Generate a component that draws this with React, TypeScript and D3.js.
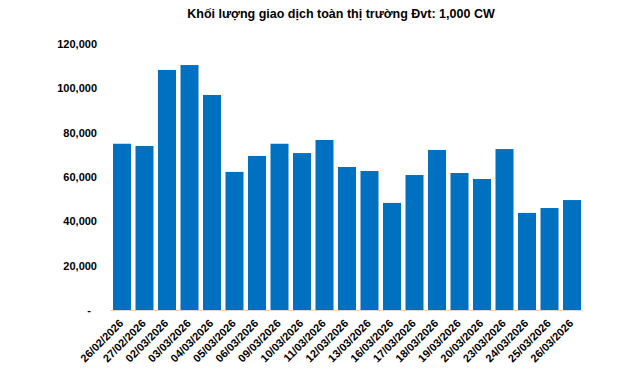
import { useEffect, useRef } from 'react';
import * as d3 from 'd3';

const dates = [
  '26/02/2026', '27/02/2026', '02/03/2026', '03/03/2026', '04/03/2026', '05/03/2026', '06/03/2026',
  '09/03/2026', '10/03/2026', '11/03/2026', '12/03/2026', '13/03/2026', '16/03/2026', '17/03/2026',
  '18/03/2026', '19/03/2026', '20/03/2026', '23/03/2026', '24/03/2026', '25/03/2026', '26/03/2026',
];
const volumes = [
  75000, 74000, 108300, 110500, 97000, 62300, 69500,
  75000, 70800, 76700, 64500, 62700, 48300, 60900,
  72200, 61800, 59100, 72600, 43800, 46000, 49600,
];
const yTicks = [0, 20000, 40000, 60000, 80000, 100000, 120000];

const W = 640;
const H = 372;
const FONT = '"Liberation Sans", Arial, sans-serif';

export default function App() {
  const svgRef = useRef<SVGSVGElement>(null);

  useEffect(() => {
    if (!svgRef.current) return;
    const svg = d3.select(svgRef.current);
    svg.selectAll('*').remove();

    const x = d3.scaleBand<string>().domain(dates).range([110.75, 583.25]).paddingInner(0.2).paddingOuter(0.1);
    const y = d3.scaleLinear([0, 120000], [310, 44]);

    // Title
    svg.append('text').attr('x', 341).attr('y', 18).attr('text-anchor', 'middle')
      .attr('font-family', FONT).attr('font-weight', 'bold').attr('font-size', 12.5).attr('fill', '#000')
      .text('Khối lượng giao dịch toàn thị trường Đvt: 1,000 CW');

    // Y tick labels
    const fmt = d3.format(',');
    svg.selectAll('.ytick').data(yTicks).join('text')
      .attr('x', (d: number) => d === 0 ? 91 : 97)
      .attr('y', (d: number) => y(d) + 4)
      .attr('text-anchor', 'end')
      .attr('font-family', FONT).attr('font-weight', 'bold').attr('font-size', 11).attr('fill', '#000')
      .text((d: number) => d === 0 ? '-' : fmt(d));

    // Bars
    svg.selectAll('.bar').data(volumes).join('rect')
      .attr('x', (_d: number, i: number) => x(dates[i]) as number)
      .attr('width', x.bandwidth())
      .attr('y', (d: number) => y(d))
      .attr('height', (d: number) => y(0) - y(d))
      .attr('fill', '#0070c0');

    // Baseline
    svg.append('line').attr('x1', 110).attr('x2', 583).attr('y1', y(0) + 0.5).attr('y2', y(0) + 0.5)
      .attr('stroke', '#d9d9d9').attr('stroke-width', 1);

    // X labels
    svg.selectAll('.xlab').data(dates).join('text')
      .attr('transform', (d: string) => `translate(${(x(d) as number) + x.bandwidth() / 2 + 2},${y(0) + 14}) rotate(-45)`)
      .attr('text-anchor', 'end')
      .attr('font-family', FONT).attr('font-weight', 'bold').attr('font-size', 11).attr('fill', '#000')
      .text((d: string) => d);
  }, []);

  return (
    <svg ref={svgRef} width={W} height={H}
      style={{ position: 'absolute', left: 0, top: 0, background: '#fff', display: 'block' }} />
  );
}
